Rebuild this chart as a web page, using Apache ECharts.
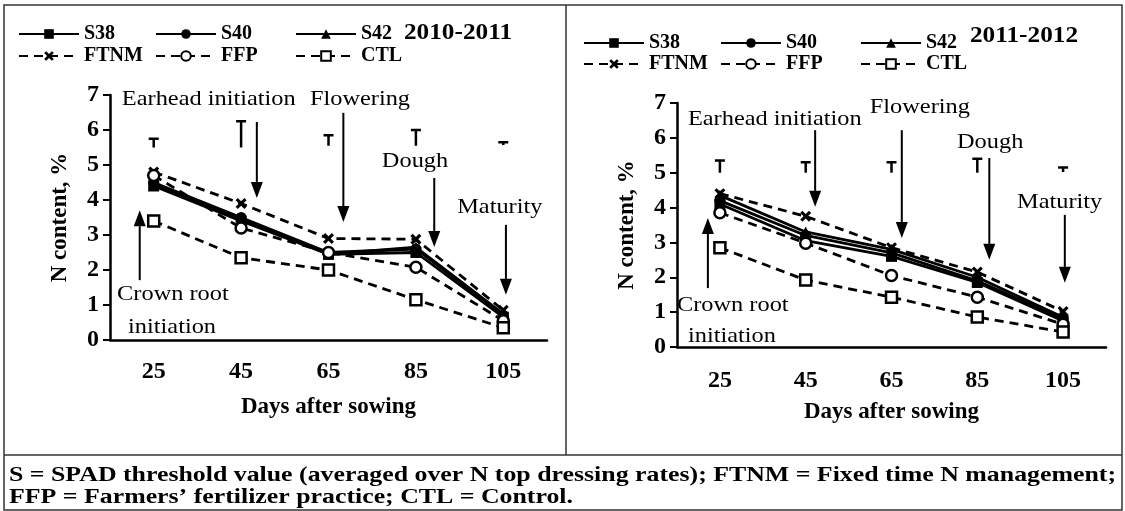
<!DOCTYPE html>
<html>
<head>
<meta charset="utf-8">
<script src="https://cdn.jsdelivr.net/npm/echarts@6/dist/echarts.min.js"></script>
<style>
  html, body { margin: 0; padding: 0; background: #fff; }
  #chart { width: 1125px; height: 511px; }
</style>
</head>
<body>
<div id="chart"></div>
<script>
// x categories (days after sowing)
const days = ["25", "45", "65", "85", "105"];

// 2010-2011, N content %
const s38A  = [4.40, 3.40, 2.45, 2.50, 0.65];
const s40A  = [4.50, 3.50, 2.50, 2.60, 0.70];
const s42A  = [4.45, 3.45, 2.45, 2.65, 0.75];
const ftnmA = [4.80, 3.90, 2.90, 2.88, 0.85];
const ffpA  = [4.70, 3.20, 2.50, 2.08, 0.55];
const ctlA  = [3.40, 2.35, 2.00, 1.15, 0.35];
// LSD bars [low, high]
const lsdA  = [[5.50, 5.75], [5.50, 6.25], [5.55, 5.85], [5.55, 6.00], [5.57, 5.65]];

// 2011-2012, N content %
const s38B  = [4.10, 3.05, 2.60, 1.85, 0.75];
const s40B  = [4.20, 3.20, 2.70, 1.90, 0.80];
const s42B  = [4.35, 3.30, 2.80, 2.00, 0.85];
const ftnmB = [4.40, 3.75, 2.85, 2.15, 1.02];
const ffpB  = [3.85, 2.98, 2.05, 1.43, 0.65];
const ctlB  = [2.85, 1.92, 1.43, 0.86, 0.43];
const lsdB  = [[5.00, 5.35], [5.00, 5.30], [5.00, 5.30], [5.00, 5.40], [5.02, 5.15]];

const yTicks = [0, 1, 2, 3, 4, 5, 6, 7];

// growth stage notes: [label, category pos, value] and arrows [pos, from, to]
const notesA = [
  ["Earhead initiation", 0.63, 6.86], ["Flowering", 2.36, 6.86],
  ["Dough", 2.99, 5.09], ["Maturity", 3.96, 3.80],
  ["Crown root", 0.22, 1.29], ["initiation", 0.21, 0.37]
];
const arrowsA = [[1.18, 6.23, 4.06], [2.17, 6.49, 3.37], [3.21, 4.63, 2.66], [4.03, 3.29, 1.29], [-0.16, 1.71, 3.71]];
const notesB = [
  ["Earhead initiation", 0.64, 6.54], ["Flowering", 2.33, 6.86],
  ["Dough", 3.15, 5.88], ["Maturity", 3.96, 4.16],
  ["Crown root", 0.15, 1.20], ["initiation", 0.14, 0.29]
];
const arrowsB = [[1.11, 6.22, 4.02], [2.12, 6.22, 3.13], [3.14, 5.42, 2.50], [4.02, 3.79, 1.84], [-0.14, 1.69, 3.70]];

const FONT = "Liberation Serif";
const grids = [
  { left: 110, top: 95, width: 437, height: 245 },
  { left: 677, top: 103, width: 429, height: 244 }
];

const XMARK = "path://M2,0 L5,3 L8,0 L10,2 L7,5 L10,8 L8,10 L5,7 L2,10 L0,8 L3,5 L0,2 Z";

function line(name, data, symbol, dashed, hollow, gi) {
  return {
    name, type: "line", data, symbol,
    xAxisIndex: gi, yAxisIndex: gi,
    symbolSize: 11,
    lineStyle: { color: "#000", width: 2.8, type: dashed ? [9, 6] : "solid" },
    itemStyle: hollow
      ? { color: "#fff", borderColor: "#000", borderWidth: 2.5 }
      : { color: "#000" },
    z: 3
  };
}

function lsdSeries(bars, gi) {
  return {
    type: "custom", xAxisIndex: gi, yAxisIndex: gi, z: 4,
    data: bars.map((b, i) => [i, b[0], b[1]]),
    renderItem(params, api) {
      const lo = api.coord([api.value(0), api.value(1)]);
      const hi = api.coord([api.value(0), api.value(2)]);
      return {
        type: "group",
        children: [
          { type: "line", shape: { x1: lo[0], y1: lo[1], x2: hi[0], y2: hi[1] },
            style: { stroke: "#000", lineWidth: 2.5 } },
          { type: "line", shape: { x1: hi[0] - 5, y1: hi[1], x2: hi[0] + 5, y2: hi[1] },
            style: { stroke: "#000", lineWidth: 2.5 } }
        ]
      };
    }
  };
}

function axes(gi, labelMargin, nameGap) {
  return {
    x: {
      type: "category", data: days, gridIndex: gi, boundaryGap: true,
      axisLine: { lineStyle: { color: "#000", width: 2.5 } },
      axisTick: { length: 7, lineStyle: { color: "#000", width: 2 } },
      axisLabel: { color: "#000", fontFamily: FONT, fontWeight: "bold", fontSize: 24, margin: labelMargin },
      name: "Days after sowing", nameLocation: "middle", nameGap: nameGap,
      nameTextStyle: { color: "#000", fontFamily: FONT, fontWeight: "bold", fontSize: 23 }
    },
    y: {
      type: "value", gridIndex: gi, min: yTicks[0], max: yTicks[yTicks.length - 1], interval: 1,
      axisLine: { show: true, lineStyle: { color: "#000", width: 2.5 } },
      axisTick: { show: true, length: 7, lineStyle: { color: "#000", width: 2 } },
      splitLine: { show: false },
      axisLabel: { color: "#000", fontFamily: FONT, fontWeight: "bold", fontSize: 24, margin: 11 },
      name: "N content, %", nameLocation: "middle", nameGap: 38, nameRotate: 90,
      nameTextStyle: { color: "#000", fontFamily: FONT, fontWeight: "bold", fontSize: 23 }
    }
  };
}

const ax0 = axes(0, 20, 56), ax1 = axes(1, 22, 54);

const legendText = { color: "#000", fontFamily: FONT, fontWeight: "bold", fontSize: 20 };
function legend(name, left, top) {
  return {
    data: [name], left, top,
    itemWidth: 60, itemHeight: 12,
    selectedMode: false, textStyle: legendText
  };
}
const legendCols = [0, 137, 277];
const legendRows = [["S38", "S40", "S42"], ["FTNM", "FFP", "CTL"]];
function legends(x0, tops) {
  const out = [];
  legendRows.forEach((row, r) => row.forEach((n, c) => out.push(legend(n, x0 + legendCols[c], tops[r]))));
  return out;
}

const chart = echarts.init(document.getElementById("chart"), null, { renderer: "canvas" });

chart.setOption({
  animation: false,
  backgroundColor: "#fff",
  grid: grids,
  xAxis: [ax0.x, ax1.x],
  yAxis: [ax0.y, ax1.y],
  legend: legends(13, [19, 41]).concat(legends(578, [28, 49])),
  series: [
    line("S38", s38A, "rect", false, false, 0),
    line("S40", s40A, "circle", false, false, 0),
    line("S42", s42A, "triangle", false, false, 0),
    line("FTNM", ftnmA, XMARK, true, false, 0),
    line("FFP", ffpA, "circle", true, true, 0),
    line("CTL", ctlA, "rect", true, true, 0),
    lsdSeries(lsdA, 0),
    line("S38", s38B, "rect", false, false, 1),
    line("S40", s40B, "circle", false, false, 1),
    line("S42", s42B, "triangle", false, false, 1),
    line("FTNM", ftnmB, XMARK, true, false, 1),
    line("FFP", ffpB, "circle", true, true, 1),
    line("CTL", ctlB, "rect", true, true, 1),
    lsdSeries(lsdB, 1)
  ]
});

// annotations, placed in data units of each grid
function px(gi, pos, v) {
  const g = grids[gi];
  return [g.left + (pos + 0.5) * g.width / days.length,
          g.top + g.height * (1 - v / yTicks[yTicks.length - 1])];
}

const gfx = [];
function addNotes(gi, notes, arrows) {
  notes.forEach(n => {
    const p = px(gi, n[1], n[2]);
    gfx.push({ type: "text", x: p[0], y: p[1], z: 10, scaleX: 1.16,
      style: { text: n[0], fill: "#000", font: `21px "${FONT}"`, align: "center", verticalAlign: "middle" } });
  });
  arrows.forEach(a => {
    const p0 = px(gi, a[0], a[1]);
    const p1 = px(gi, a[0], a[2]);
    const dir = p1[1] > p0[1] ? 1 : -1;
    const headL = 16, headW = 6;
    gfx.push({ type: "line", z: 10, shape: { x1: p0[0], y1: p0[1], x2: p1[0], y2: p1[1] - dir * headL },
      style: { stroke: "#000", lineWidth: 2 } });
    gfx.push({ type: "polygon", z: 10,
      shape: { points: [[p1[0], p1[1]], [p1[0] - headW, p1[1] - dir * headL], [p1[0] + headW, p1[1] - dir * headL]] },
      style: { fill: "#000" } });
  });
}
addNotes(0, notesA, arrowsA);
addNotes(1, notesB, arrowsB);

// panel titles
gfx.push({ type: "text", x: 458, y: 33, scaleX: 1.1, style: { text: "2010-2011", fill: "#000", font: `bold 23px "${FONT}"`, align: "center", verticalAlign: "middle" } });
gfx.push({ type: "text", x: 1024, y: 36, scaleX: 1.1, style: { text: "2011-2012", fill: "#000", font: `bold 23px "${FONT}"`, align: "center", verticalAlign: "middle" } });

// frame
const frameStyle = { stroke: "#333", lineWidth: 1.5, fill: null };
gfx.push({ type: "rect", shape: { x: 4, y: 5, width: 1118, height: 505 }, style: frameStyle });
gfx.push({ type: "line", shape: { x1: 566, y1: 5, x2: 566, y2: 455 }, style: frameStyle });
gfx.push({ type: "line", shape: { x1: 4, y1: 455, x2: 1122, y2: 455 }, style: frameStyle });

// caption
const capFont = `bold 21px "${FONT}"`;
gfx.push({ type: "text", x: 9, y: 476, scaleX: 1.23, style: { text: "S = SPAD threshold value (averaged over N top dressing rates); FTNM = Fixed time N management;", fill: "#000", font: capFont, verticalAlign: "middle" } });
gfx.push({ type: "text", x: 9, y: 498, scaleX: 1.23, style: { text: "FFP = Farmers\u2019 fertilizer practice; CTL = Control.", fill: "#000", font: capFont, verticalAlign: "middle" } });

chart.setOption({ graphic: gfx });
</script>
</body>
</html>
